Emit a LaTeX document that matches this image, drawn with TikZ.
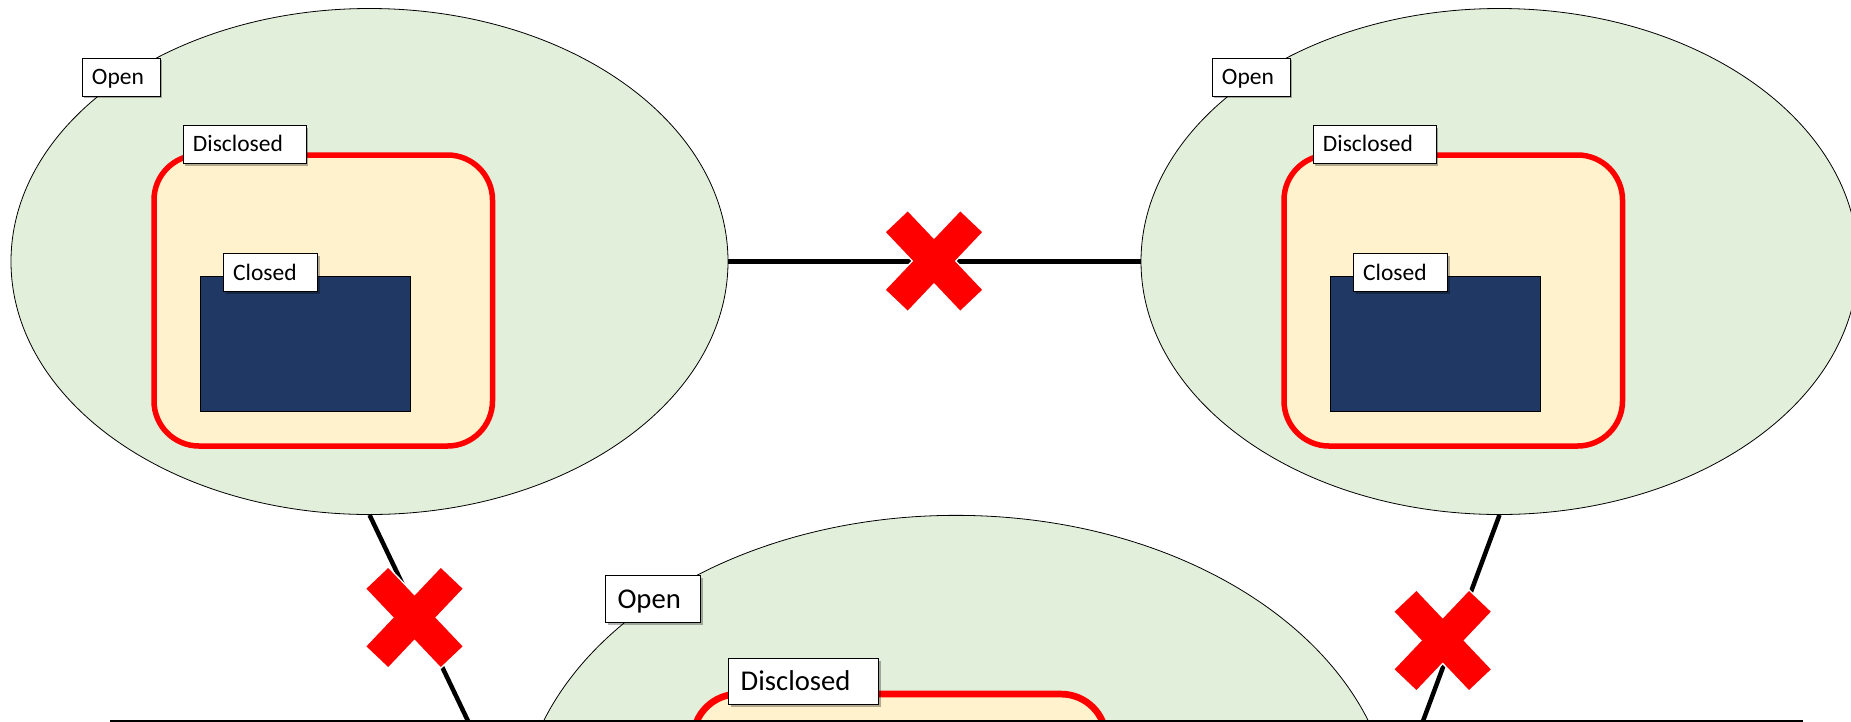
\documentclass[tikz,border=0pt]{standalone}
\usepackage{fontspec}
\setmainfont{Carlito}
\usetikzlibrary{shapes.geometric,shadows}

\definecolor{zonegreen}{HTML}{E2EFDA}
\definecolor{zonegold}{HTML}{FFF2CC}
\definecolor{zonenavy}{HTML}{203864}

\tikzset{
  openzone/.style={ellipse, draw=black, line width=0.8pt, fill=zonegreen,
    minimum width=717pt, minimum height=506pt, inner sep=0pt},
  disczone/.style={rectangle, rounded corners=45pt, draw=red, fill=zonegold,
    minimum width=338.5pt, minimum height=291pt, inner sep=0pt},
  closedzone/.style={rectangle, draw=black, fill=zonenavy,
    minimum width=210pt, minimum height=135pt, inner sep=0pt},
  tag/.style={rectangle, draw=black, fill=white, anchor=north west,
    inner xsep=10pt, inner ysep=0pt, text height=26.5pt, text depth=11.5pt,
    align=left, font=\fontsize{23.5}{28}\selectfont,
    drop shadow={shadow xshift=2.5pt, shadow yshift=-2.5pt, opacity=0.3, fill=black}},
  link/.style={draw=black, line width=4.5pt},
}

% Open ellipse with its Disclosed box
% #1 name, #2 centre x, #3 centre y, #4 scale
\newcommand\zone[4]{%
  \begin{scope}[shift={(#2,#3)}, scale=#4, every node/.append style={transform shape}]
    \node[openzone] (#1-open) at (0,0) {};
    \node[disczone, line width=#4*5.5pt] (#1-disc) at (-46.25,39) {};
    \node[tag, line width=#4*0.9pt, text width=58pt] (#1-opentag) at (-288,-204) {Open};
    \node[tag, line width=#4*0.9pt, text width=103pt] (#1-disctag) at (-187,-136.5) {Disclosed};
  \end{scope}}

% Closed box inside a zone's Disclosed box
\newcommand\closedcore[3]{%
  \begin{scope}[shift={(#2,#3)}]
    \node[closedzone, line width=0.9pt] (#1-closed) at (-64.5,82) {};
    \node[tag, line width=0.9pt, text width=74pt] (#1-closedtag) at (-146.8,-8.2) {Closed};
  \end{scope}}

% Red cross drawn over a connector
\newcommand\blockmark[1]{%
  \begin{scope}[shift={#1}]
    \foreach \a in {46.5,-46.5}
      \draw[white, line width=3pt, rotate=\a] (-54,-15) rectangle (54,15);
    \foreach \a in {46.5,-46.5}
      \fill[red, rotate=\a] (-54,-15) rectangle (54,15);
  \end{scope}}

\begin{document}
\begin{tikzpicture}[x=1pt, y=-1pt]
  \useasboundingbox (0,0) rectangle (1851,721);
  \clip (0,0) rectangle (1851,721);

  \zone{L}{369.5}{261.5}{1}
  \closedcore{L}{369.5}{261.5}
  \zone{R}{1499.5}{261.5}{1}
  \closedcore{R}{1499.5}{261.5}
  \zone{B}{956}{824}{1.22}

  \coordinate (lb) at (468,721);
  \coordinate (rb) at (1423,721);

  \draw[link] (L-open.east) -- (R-open.west);
  \draw[link] (L-open.south) -- (lb);
  \draw[link] (R-open.south) -- (rb);

  \blockmark{(934,261)}
  \blockmark{(414.5,617.5)}
  \blockmark{(1442.7,640.5)}

  \node[draw=black, line width=3.5pt, anchor=north west, minimum width=1689.5pt,
        minimum height=300pt, inner sep=0pt] (base) at (109.75,719.5) {};
\end{tikzpicture}
\end{document}
